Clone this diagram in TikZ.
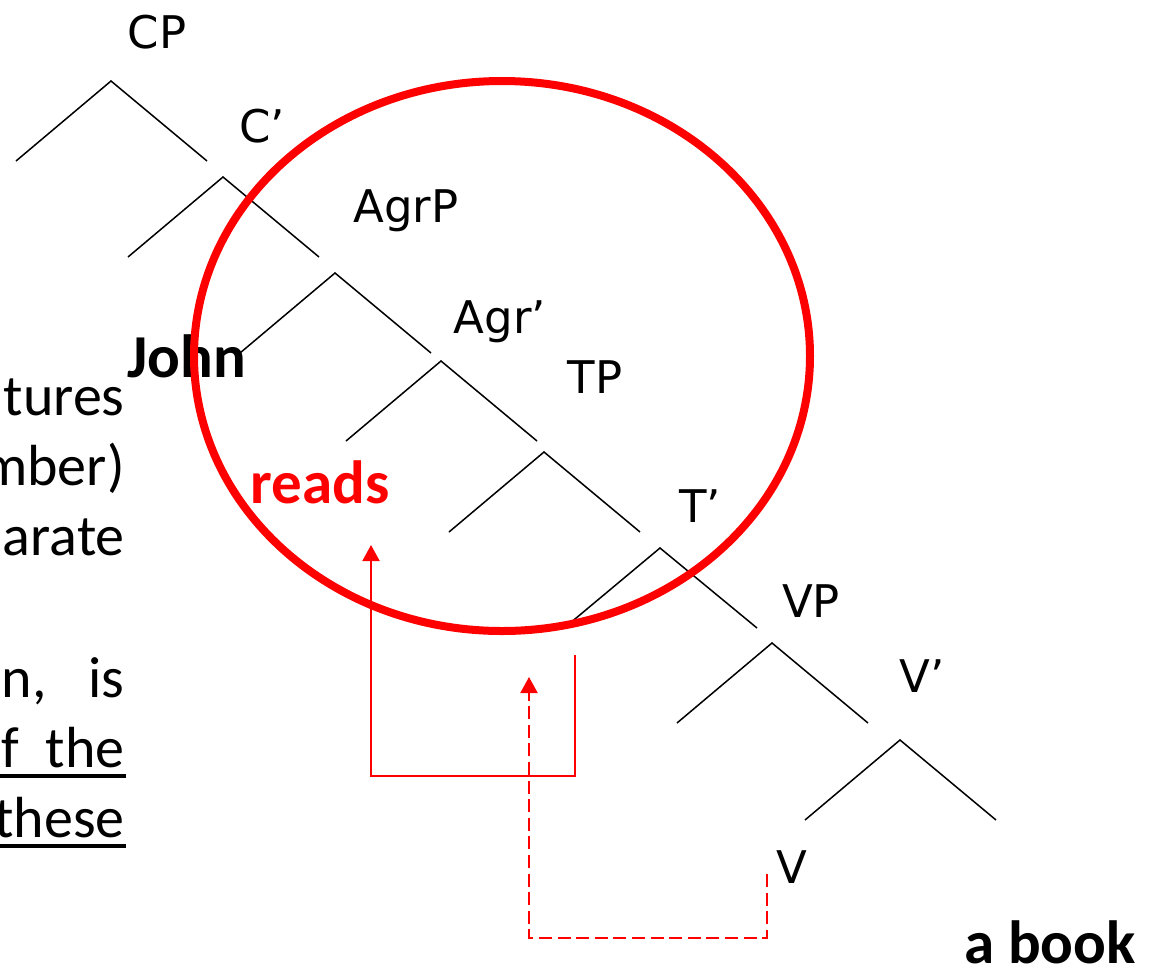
\documentclass[tikz,border=0pt]{standalone}
\usepackage{fontspec}
\setmainfont{Carlito}
\newfontfamily\lblfont{DejaVu Sans}
\usetikzlibrary{arrows.meta,shapes.geometric}
\definecolor{pured}{RGB}{255,0,0}
\tikzset{
  lbl/.style={font=\lblfont\fontsize{22.5pt}{26pt}\selectfont, inner sep=0pt, anchor=base},
  word/.style={font=\bfseries\fontsize{30.5pt}{36pt}\selectfont, inner sep=0pt, anchor=base},
  para/.style={font=\fontsize{29pt}{34pt}\selectfont, inner sep=0pt, anchor=base east},
  branch/.style={line width=0.75pt, black},
  movesolid/.style={line width=1pt, pured, -{Triangle[width=8.5pt,length=8pt]}},
  movedash/.style={line width=1pt, pured, dash pattern=on 6.5pt off 2.8pt, -{Triangle[width=8.5pt,length=8pt]}},
  ulinestyle/.style={line width=2pt, black},
}
\begin{document}
\begin{tikzpicture}[x=0.5pt,y=-0.5pt]
\useasboundingbox (0,0) rectangle (1153,971);

% paragraph fragments on the left
\node[para] (p1) at (125,415) {tures};
\node[para] (p2) at (125,485) {mber)};
\node[para] (p3) at (125,555) {arate};
\node[para] (p4) at (125,697) {\makebox[61.5pt][s]{n,\hfill is}};
\node[para] (p5) at (125,767) {\makebox[61.5pt][s]{f\hfill the}};
\node[para] (p6) at (125,837) {these};
\coordinate (u1a) at (0,776); \coordinate (u1b) at (126,776);
\coordinate (u2a) at (0,846); \coordinate (u2b) at (126,846);
\draw[ulinestyle] (u1a) -- (u1b);
\draw[ulinestyle] (u2a) -- (u2b);

% tree labels
\node[lbl] (CP) at (157,48) {CP};
\node[lbl] (Cbar) at (262,142) {C’};
\node[lbl] (AgrP) at (406,222) {AgrP};
\node[lbl] (Agrbar) at (500,333) {Agr’};
\node[lbl] (TP) at (595,393) {TP};
\node[lbl] (Tbar) at (700,522) {T’};
\node[lbl] (VP) at (811,617) {VP};
\node[lbl] (Vbar) at (922,692) {V’};
\node[lbl] (V) at (792,883) {V};
\node[word] (John) at (187,377) {John};
\node[word, text=pured] (reads) at (320,503) {reads};
\node[word] (book) at (1050,963) {a book};

% tree branches (apex, left leaf, right leaf)
\foreach \i/\ax/\ay in {1/111/81, 2/223/177, 3/335/273, 4/441/361, 5/544/452, 7/772/643, 8/900/740}{
  \coordinate (a\i) at (\ax,\ay);
  \coordinate (l\i) at (\ax-95,\ay+80);
  \coordinate (r\i) at (\ax+96,\ay+80);
  \draw[branch] (l\i) -- (a\i) -- (r\i);
}
\coordinate (a6) at (660,548);
\coordinate (l6) at (569,624);
\coordinate (r6) at (757,628);
\draw[branch] (l6) -- (a6) -- (r6);

% red circle
\node[draw=pured, line width=4pt, ellipse, minimum width=308pt, minimum height=275pt, inner sep=0pt] (ring) at (502,356) {};

% movement arrows
\coordinate (s1) at (575,655);
\coordinate (s2) at (575,776);
\coordinate (s3) at (371,776);
\coordinate (s4) at (371,545);
\draw[movesolid] (s1) -- (s2) -- (s3) -- (s4);
\coordinate (d1) at (767,874);
\coordinate (d2) at (767,938);
\coordinate (d3) at (529,938);
\coordinate (d4) at (529,677);
\draw[movedash] (d1) -- (d2) -- (d3) -- (d4);
\end{tikzpicture}
\end{document}
